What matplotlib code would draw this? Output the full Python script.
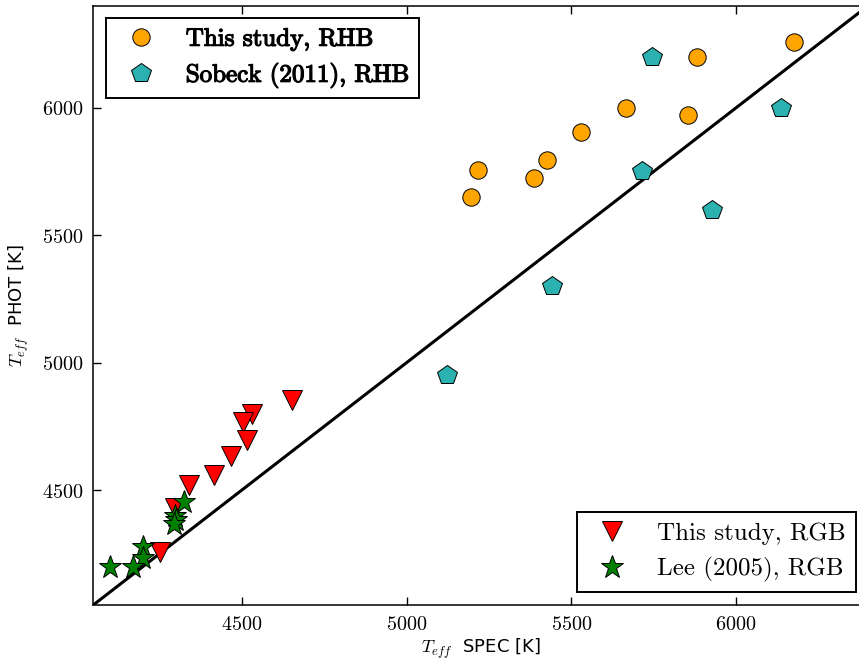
import matplotlib
matplotlib.use("Agg")
import matplotlib.pyplot as plt
import matplotlib.patheffects as pe
from matplotlib.ticker import FuncFormatter, FixedLocator

plt.rcParams["mathtext.fontset"] = "cm"
plt.rcParams["font.family"] = ["DejaVu Sans"]

# Red horizontal branch: this study
rhb_spec = [6175, 5881, 5667, 5855, 5529, 5427, 5388, 5218, 5195]
rhb_phot = [6258, 6198, 6000, 5973, 5906, 5793, 5725, 5757, 5650]

# Red horizontal branch: Sobeck (2011)
sob_spec = [5745, 6137, 5714, 5928, 5441, 5122]
sob_phot = [6200, 6000, 5750, 5600, 5300, 4950]

# Red giant branch: this study
rgb_spec = [4654, 4532, 4503, 4515, 4467, 4417, 4341, 4298, 4253]
rgb_phot = [4852, 4798, 4766, 4698, 4635, 4560, 4521, 4430, 4259]

# Red giant branch: Lee (2005)
lee_spec = [4326, 4298, 4300, 4296, 4200, 4201, 4171, 4101]
lee_phot = [4455, 4397, 4384, 4368, 4279, 4233, 4200, 4200]

lim = (4050, 6400)
xticks = [4500, 5000, 5500, 6000]
yticks = [4500, 5000, 5500, 6000]

fig = plt.figure(figsize=(8.59, 6.67), dpi=100)
ax = fig.add_axes([0.1086, 0.093, 0.902, 0.8985])

ax.plot(lim, lim, color="black", lw=2.2, zorder=1)

mkw = dict(linestyle="none", markeredgecolor="black", markeredgewidth=0.7, zorder=3)
h1, = ax.plot(rhb_spec, rhb_phot, marker="o", color="#FFA500", ms=12.5,
              label="This study, RHB", **mkw)
h2, = ax.plot(sob_spec, sob_phot, marker="p", color="#2BB2B0", ms=15,
              label="Sobeck (2011), RHB", **mkw)
h3, = ax.plot(rgb_spec, rgb_phot, marker="v", color="#FF0000", ms=14,
              label="This study, RGB", **mkw)
h4, = ax.plot(lee_spec, lee_phot, marker="*", color="#008000", ms=17,
              label="Lee (2005), RGB", **mkw)

ax.set_xlim(*lim)
ax.set_ylim(*lim)
ax.xaxis.set_major_locator(FixedLocator(xticks))
ax.yaxis.set_major_locator(FixedLocator(yticks))
fmt = FuncFormatter(lambda v, p: r"$%d$" % v)
ax.xaxis.set_major_formatter(fmt)
ax.yaxis.set_major_formatter(fmt)
ax.tick_params(direction="in", length=6, width=1, top=True, right=True,
               labelsize=14.5, pad=7)
for s in ax.spines.values():
    s.set_linewidth(1.1)

ax.set_xlabel(r"$T_{eff}$  SPEC [K]", fontsize=13, labelpad=2)
ax.set_ylabel(r"$T_{eff}$  PHOT [K]", fontsize=13, labelpad=8)

legkw = dict(numpoints=1, fancybox=False, framealpha=1, edgecolor="black",
             prop={"family": "cmr10", "size": 18})
leg1 = ax.legend(handles=[h1, h2], loc="upper left", **legkw)
leg1.get_frame().set_linewidth(1.4)
for t in leg1.get_texts():
    t.set_path_effects([pe.withStroke(linewidth=0.9, foreground="black")])
ax.add_artist(leg1)
leg2 = ax.legend(handles=[h3, h4], loc="lower right", **legkw)
leg2.get_frame().set_linewidth(1.4)

fig.savefig("out.png", dpi=100)
